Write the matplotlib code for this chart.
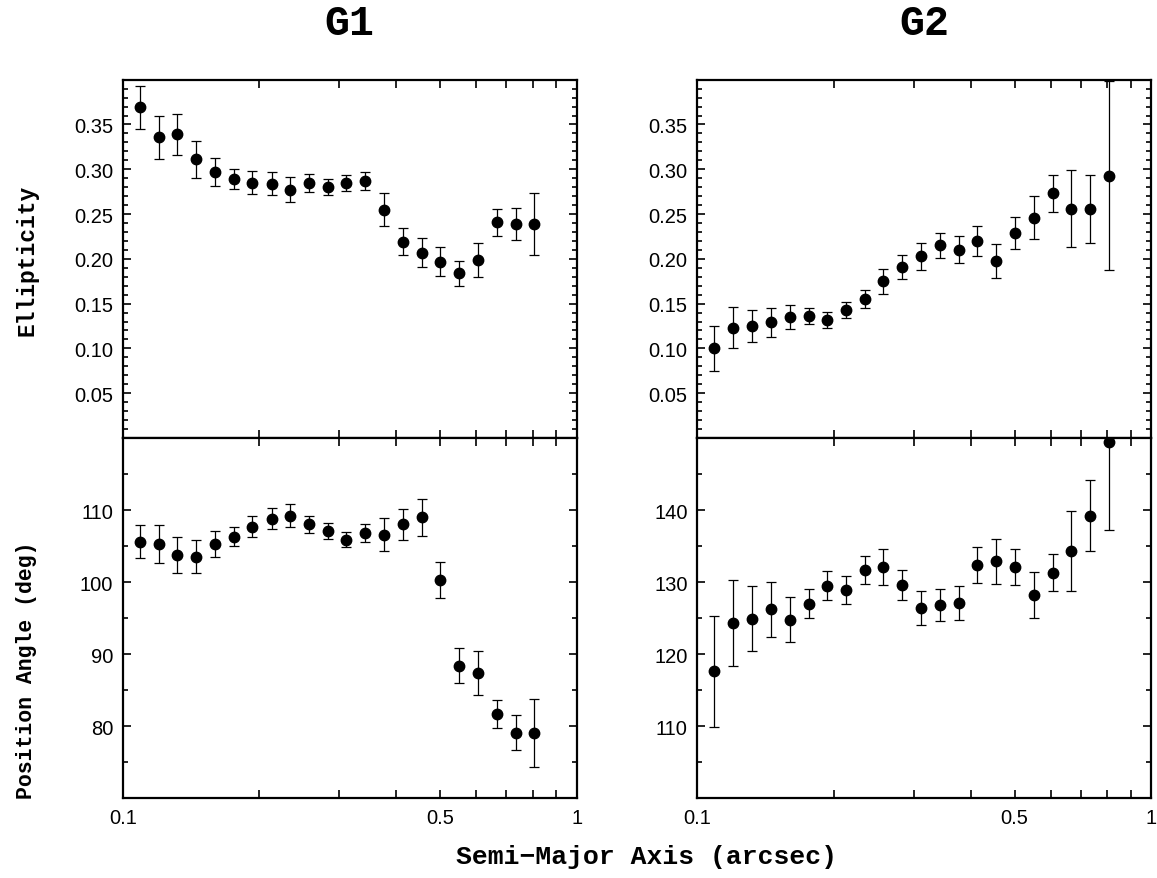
import matplotlib
matplotlib.use("Agg")
import matplotlib.pyplot as plt
from matplotlib.ticker import FixedLocator, FuncFormatter, MultipleLocator, NullLocator

# Semi-major axis (arcsec)
sma = [0.109, 0.120, 0.132, 0.145, 0.160, 0.176, 0.193, 0.213, 0.234, 0.257, 0.283,
       0.311, 0.342, 0.377, 0.414, 0.456, 0.501, 0.551, 0.606, 0.667, 0.734, 0.807]

# G1
g1_ell = [0.369, 0.336, 0.339, 0.311, 0.297, 0.289, 0.285, 0.284, 0.277, 0.285, 0.280,
          0.285, 0.287, 0.255, 0.219, 0.207, 0.197, 0.184, 0.199, 0.241, 0.239, 0.239]
g1_ell_err = [0.024, 0.024, 0.023, 0.021, 0.016, 0.011, 0.013, 0.013, 0.014, 0.010, 0.009,
              0.009, 0.010, 0.018, 0.015, 0.016, 0.016, 0.014, 0.019, 0.015, 0.018, 0.035]
g1_pa = [105.6, 105.3, 103.8, 103.5, 105.3, 106.3, 107.7, 108.8, 109.2, 108.0, 107.1,
         105.9, 106.8, 106.6, 108.0, 109.0, 100.3, 88.4, 87.4, 81.7, 79.1, 79.1]
g1_pa_err = [2.3, 2.6, 2.5, 2.3, 1.8, 1.3, 1.5, 1.5, 1.6, 1.2, 1.1,
             1.0, 1.2, 2.3, 2.2, 2.6, 2.5, 2.4, 3.1, 2.0, 2.4, 4.7]

# G2
g2_ell = [0.100, 0.123, 0.125, 0.129, 0.135, 0.136, 0.132, 0.143, 0.155, 0.175, 0.191,
          0.203, 0.215, 0.210, 0.220, 0.198, 0.229, 0.246, 0.273, 0.256, 0.256, 0.293]
g2_ell_err = [0.025, 0.023, 0.018, 0.016, 0.013, 0.009, 0.009, 0.009, 0.010, 0.014, 0.013,
              0.015, 0.014, 0.015, 0.017, 0.019, 0.018, 0.024, 0.021, 0.043, 0.038, 0.106]
g2_pa = [117.6, 124.3, 124.9, 126.2, 124.8, 127.0, 129.5, 128.9, 131.7, 132.1, 129.6,
         126.4, 126.8, 127.1, 132.4, 132.9, 132.1, 128.2, 131.3, 134.3, 139.2, 149.4]
g2_pa_err = [7.7, 6.0, 4.5, 3.8, 3.1, 2.0, 2.0, 2.0, 1.9, 2.5, 2.1,
             2.4, 2.2, 2.3, 2.5, 3.1, 2.5, 3.2, 2.6, 5.5, 4.9, 12.2]

titles = ["G1", "G2"]
x_major = [0.1, 0.2, 0.3, 0.4, 0.5, 0.6, 0.7, 0.8, 0.9, 1.0]
x_labels = {0.1: "0.1", 0.5: "0.5", 1.0: "1"}

label_font = dict(family="Liberation Mono", weight="bold")
tick_font = "Liberation Sans"

fig = plt.figure(figsize=(11.57, 8.79), dpi=100)

lefts = [0.1061, 0.6027]
width = 0.3924
top_box = (0.5006, 0.4076)
bot_box = (0.0907, 0.4099)

data = [
    (g1_ell, g1_ell_err, g1_pa, g1_pa_err, (70, 120), [80, 90, 100, 110]),
    (g2_ell, g2_ell_err, g2_pa, g2_pa_err, (100, 150), [110, 120, 130, 140]),
]


def style(ax, show_xlabels):
    ax.set_xscale("log")
    ax.set_xlim(0.1, 1.0)
    ax.xaxis.set_major_locator(FixedLocator(x_major))
    ax.xaxis.set_minor_locator(NullLocator())
    if show_xlabels:
        ax.xaxis.set_major_formatter(
            FuncFormatter(lambda v, p: next((s for k, s in x_labels.items() if abs(k - v) < 1e-6), "")))
    else:
        ax.xaxis.set_major_formatter(FuncFormatter(lambda v, p: ""))
    ax.tick_params(which="both", direction="in", top=True, right=True, width=1.2, pad=7,
                   labelsize=14.5)
    ax.tick_params(which="major", length=6)
    ax.tick_params(which="minor", length=3.5)
    for s in ax.spines.values():
        s.set_linewidth(1.6)
    for lab in ax.get_xticklabels() + ax.get_yticklabels():
        lab.set_fontfamily(tick_font)


for i, (ell, ell_err, pa, pa_err, pa_lim, pa_ticks) in enumerate(data):
    ax1 = fig.add_axes([lefts[i], top_box[0], width, top_box[1]])
    ax2 = fig.add_axes([lefts[i], bot_box[0], width, bot_box[1]])

    ax1.errorbar(sma, ell, yerr=ell_err, fmt="o", color="black", ms=7.5,
                 capsize=3.5, elinewidth=0.9, capthick=0.9, clip_on=False, zorder=3)
    ax1.set_ylim(0.0, 0.4)
    ax1.yaxis.set_major_locator(MultipleLocator(0.05))
    ax1.yaxis.set_minor_locator(MultipleLocator(0.01))
    ax1.yaxis.set_major_formatter(
        FuncFormatter(lambda v, p: "" if (v < 0.01 or v > 0.39) else f"{v:.2f}"))
    style(ax1, False)

    ax2.errorbar(sma, pa, yerr=pa_err, fmt="o", color="black", ms=7.5,
                 capsize=3.5, elinewidth=0.9, capthick=0.9, clip_on=True, zorder=3)
    ax2.set_ylim(*pa_lim)
    ax2.yaxis.set_major_locator(MultipleLocator(10))
    ax2.yaxis.set_minor_locator(MultipleLocator(5))
    ax2.yaxis.set_major_formatter(
        FuncFormatter(lambda v, p, lo=pa_ticks[0], hi=pa_ticks[-1]:
                      f"{v:.0f}" if lo - 0.1 <= v <= hi + 0.1 else ""))
    style(ax2, True)

    fig.text(lefts[i] + width / 2, 1 - 24 / 879, titles[i], ha="center", va="center",
             fontsize=30, **label_font)

fig.text(27 / 1157, 1 - 260 / 879, "Ellipticity", rotation=90, ha="center", va="center",
         fontsize=16.5, **label_font)
fig.text(27 / 1157, 1 - 670 / 879, "Position Angle (deg)", rotation=90, ha="center",
         va="center", fontsize=15.5, **label_font)
fig.text(646 / 1157, 1 - 857 / 879, "Semi\u2212Major Axis (arcsec)", ha="center",
         va="center", fontsize=19, **label_font)

fig.savefig("out.png", dpi=100)
